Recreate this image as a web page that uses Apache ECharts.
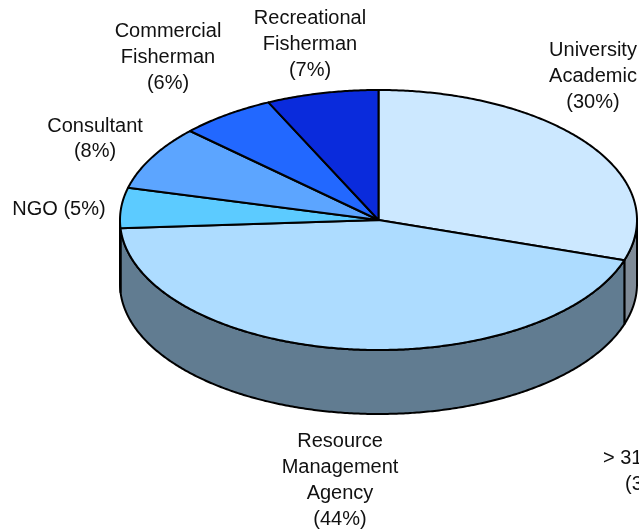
<!DOCTYPE html>
<html>
<head>
<meta charset="utf-8">
<style>html,body{margin:0;padding:0;background:#fff}#main{width:639px;height:529px}</style>
<script src="https://cdn.jsdelivr.net/npm/echarts@6/dist/echarts.min.js"></script>
</head>
<body>
<div id="main"></div>
<script>
// clockwise from 12 o'clock
var categories = ['University\nAcademic', 'Resource\nManagement\nAgency', 'NGO', 'Consultant', 'Commercial\nFisherman', 'Recreational\nFisherman'];
var percents = [30, 44, 5, 8, 6, 7];
var topColors = ['#cce8ff', '#addcff', '#5ccbff', '#5ca5ff', '#2268ff', '#0a2bdc'];
var sideColors = ['#7f8b97', '#617c91', '#4f7f99', '#4f7f99', '#4f7f99', '#4f7f99'];

// pie geometry, the tilted disc
var cx = 378.5, cy = 220, rx = 258.5, ry = 130, depth = 64;

// label anchors [x, y], same order as categories
var labelPos = [[593, 76.5], [340, 480.5], [59, 209], [95, 139], [168, 57.5], [310, 44.5]];

function point(deg, dy) {
    var a = deg * Math.PI / 180;
    return [cx + rx * Math.sin(a), cy - ry * Math.cos(a) + (dy || 0)];
}

function arc(from, to, dy) {
    var pts = [];
    var n = Math.max(2, Math.ceil(Math.abs(to - from) * 2));
    for (var i = 0; i <= n; i++) {
        pts.push(point(from + (to - from) * i / n, dy));
    }
    return pts;
}

var rows = [];
var sum = 0;
percents.forEach(function (v, i) {
    rows.push([sum * 3.6, (sum + v) * 3.6, i]);
    sum += v;
});

function renderTop(params, api) {
    var pts = [[cx, cy]].concat(arc(api.value(0), api.value(1)));
    return {
        type: 'polygon',
        shape: { points: pts },
        style: { fill: topColors[api.value(2)], stroke: '#000', lineWidth: 2, lineJoin: 'round' }
    };
}

// only the front half of the rim can be seen
function renderSide(params, api) {
    var from = Math.max(api.value(0), 90);
    var to = Math.min(api.value(1), 270);
    if (from >= to) return null;
    var pts = arc(from, to, 0).concat(arc(to, from, depth));
    return {
        type: 'polygon',
        shape: { points: pts },
        style: { fill: sideColors[api.value(2)], stroke: '#000', lineWidth: 2, lineJoin: 'round' }
    };
}

var labelFont = { fontFamily: '"Liberation Sans", Arial, sans-serif', fontSize: 20, lineHeight: 25.7, fill: '#111' };

function textItem(text, x, y, align) {
    return {
        type: 'text',
        x: x,
        y: y,
        silent: true,
        style: Object.assign({ text: text, align: align || 'center', verticalAlign: 'middle' }, labelFont)
    };
}

var labels = categories.map(function (name, i) {
    var text = name === 'NGO' ? name + ' (' + percents[i] + '%)' : name + '\n(' + percents[i] + '%)';
    return textItem(text, labelPos[i][0], labelPos[i][1]);
});
// cut off by the edge of the original figure
labels.push(textItem('> 31', 603, 458, 'left'));
labels.push(textItem('(3', 625, 484, 'left'));

var myChart = echarts.init(document.getElementById('main'), null, { renderer: 'canvas' });
var option = {
    animation: false,
    backgroundColor: '#fff',
    graphic: { elements: labels },
    series: [
        { type: 'custom', coordinateSystem: 'none', renderItem: renderSide, data: rows, z: 1, silent: true },
        { type: 'custom', coordinateSystem: 'none', renderItem: renderTop, data: rows, z: 2, silent: true }
    ]
};
myChart.setOption(option);
</script>
</body>
</html>
